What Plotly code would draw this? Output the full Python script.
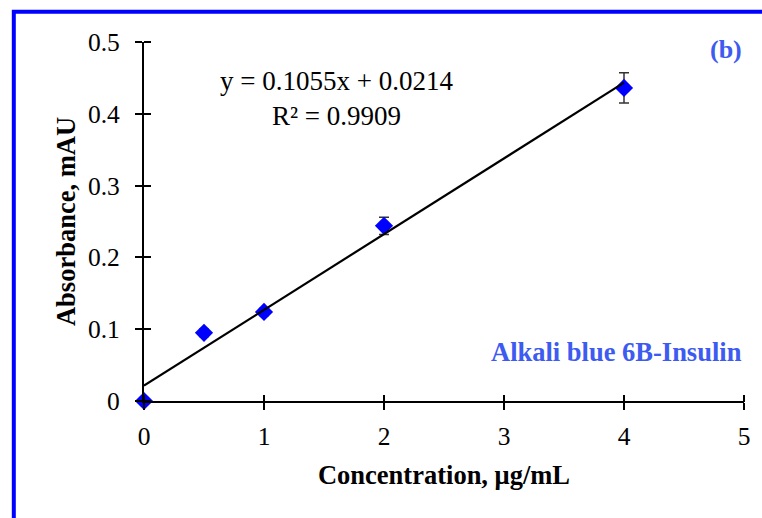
import plotly.graph_objects as go

conc = [0, 0.5, 1, 2, 4]
absorb = [0.0, 0.095, 0.124, 0.244, 0.436]
err = [0.0, 0.005, 0.005, 0.012, 0.021]
slope = 0.1055
intercept = 0.0214
fit_x = [0, 4]
fit_y = [slope * v + intercept for v in fit_x]
x_ticks = [0, 1, 2, 3, 4, 5]
y_ticks = [0, 0.1, 0.2, 0.3, 0.4, 0.5]
y_tick_text = ["0", "0.1", "0.2", "0.3", "0.4", "0.5"]

FONT = "Liberation Serif, Times New Roman, serif"
TXT_BLUE = "#3d5af1"
TICK = 7
PLOT_W, PLOT_H = 600, 359

fig = go.Figure()
fig.add_trace(go.Scatter(x=fit_x, y=fit_y, mode="lines", xaxis="x2", yaxis="y2",
                         line=dict(color="black", width=2.2), showlegend=False, hoverinfo="skip"))
fig.add_trace(go.Scatter(x=conc, y=absorb, mode="markers",
                         marker=dict(symbol="diamond", size=14, color="#0000ff"),
                         error_y=dict(type="data", array=err, color="#333333", thickness=1.5, width=5),
                         cliponaxis=False, showlegend=False))

axis_common = dict(showgrid=False, zeroline=False, showline=True, linecolor="black", linewidth=2.2,
                   ticks="outside", ticklen=TICK, tickwidth=2, tickcolor="black",
                   tickfont=dict(family=FONT, size=25.5, color="black"))

fig.update_layout(
    width=762, height=518,
    margin=dict(l=144, r=18, t=42, b=117, autoexpand=False),
    plot_bgcolor="white", paper_bgcolor="white",
    xaxis=dict(range=[0, 5], tickvals=x_ticks, ticklabelstandoff=4, **axis_common,
               title=dict(text="<b>Concentration, μg/mL</b>", font=dict(family=FONT, size=26.5, color="black"), standoff=16)),
    yaxis=dict(range=[0, 0.5], tickvals=y_ticks, ticktext=y_tick_text, ticklabelstandoff=10, **axis_common,
               title=dict(text="<b>Absorbance, mAU</b>", font=dict(family=FONT, size=26.5, color="black"), standoff=5)),
    xaxis2=dict(range=[0, 5], tickvals=x_ticks, overlaying="x", anchor="free", position=TICK / PLOT_H,
                side="bottom", showticklabels=False, showgrid=False,
                zeroline=False, showline=False, ticks="outside", ticklen=TICK, tickwidth=2, tickcolor="black"),
    yaxis2=dict(range=[0, 0.5], tickvals=y_ticks, overlaying="y", anchor="free", position=TICK / PLOT_W,
                side="left", showticklabels=False, showgrid=False,
                zeroline=False, showline=False, ticks="outside", ticklen=TICK, tickwidth=2, tickcolor="black"),
    shapes=[dict(type="rect", xref="paper", yref="paper", x0=-0.217, x1=1.2, y0=-0.6, y1=1.084,
                 line=dict(color="#0000ff", width=4), layer="below")],
    annotations=[
        dict(text="y = 0.1055x + 0.0214<br>R² = 0.9909", x=1.6, y=0.422, xref="x", yref="y",
             showarrow=False, font=dict(family=FONT, size=27, color="black"), align="center"),
        dict(text="<b>(b)</b>", x=1.0, y=0.489, xref="paper", yref="y", xanchor="right",
             showarrow=False, font=dict(family=FONT, size=26, color=TXT_BLUE)),
        dict(text="<b>Alkali blue 6B-Insulin</b>", x=1.0, y=0.068, xref="paper", yref="y", xanchor="right",
             showarrow=False, font=dict(family=FONT, size=26.5, color=TXT_BLUE)),
    ],
)
fig.update_xaxes(automargin=False)
fig.update_yaxes(automargin=False)

fig.write_html("out.html")
